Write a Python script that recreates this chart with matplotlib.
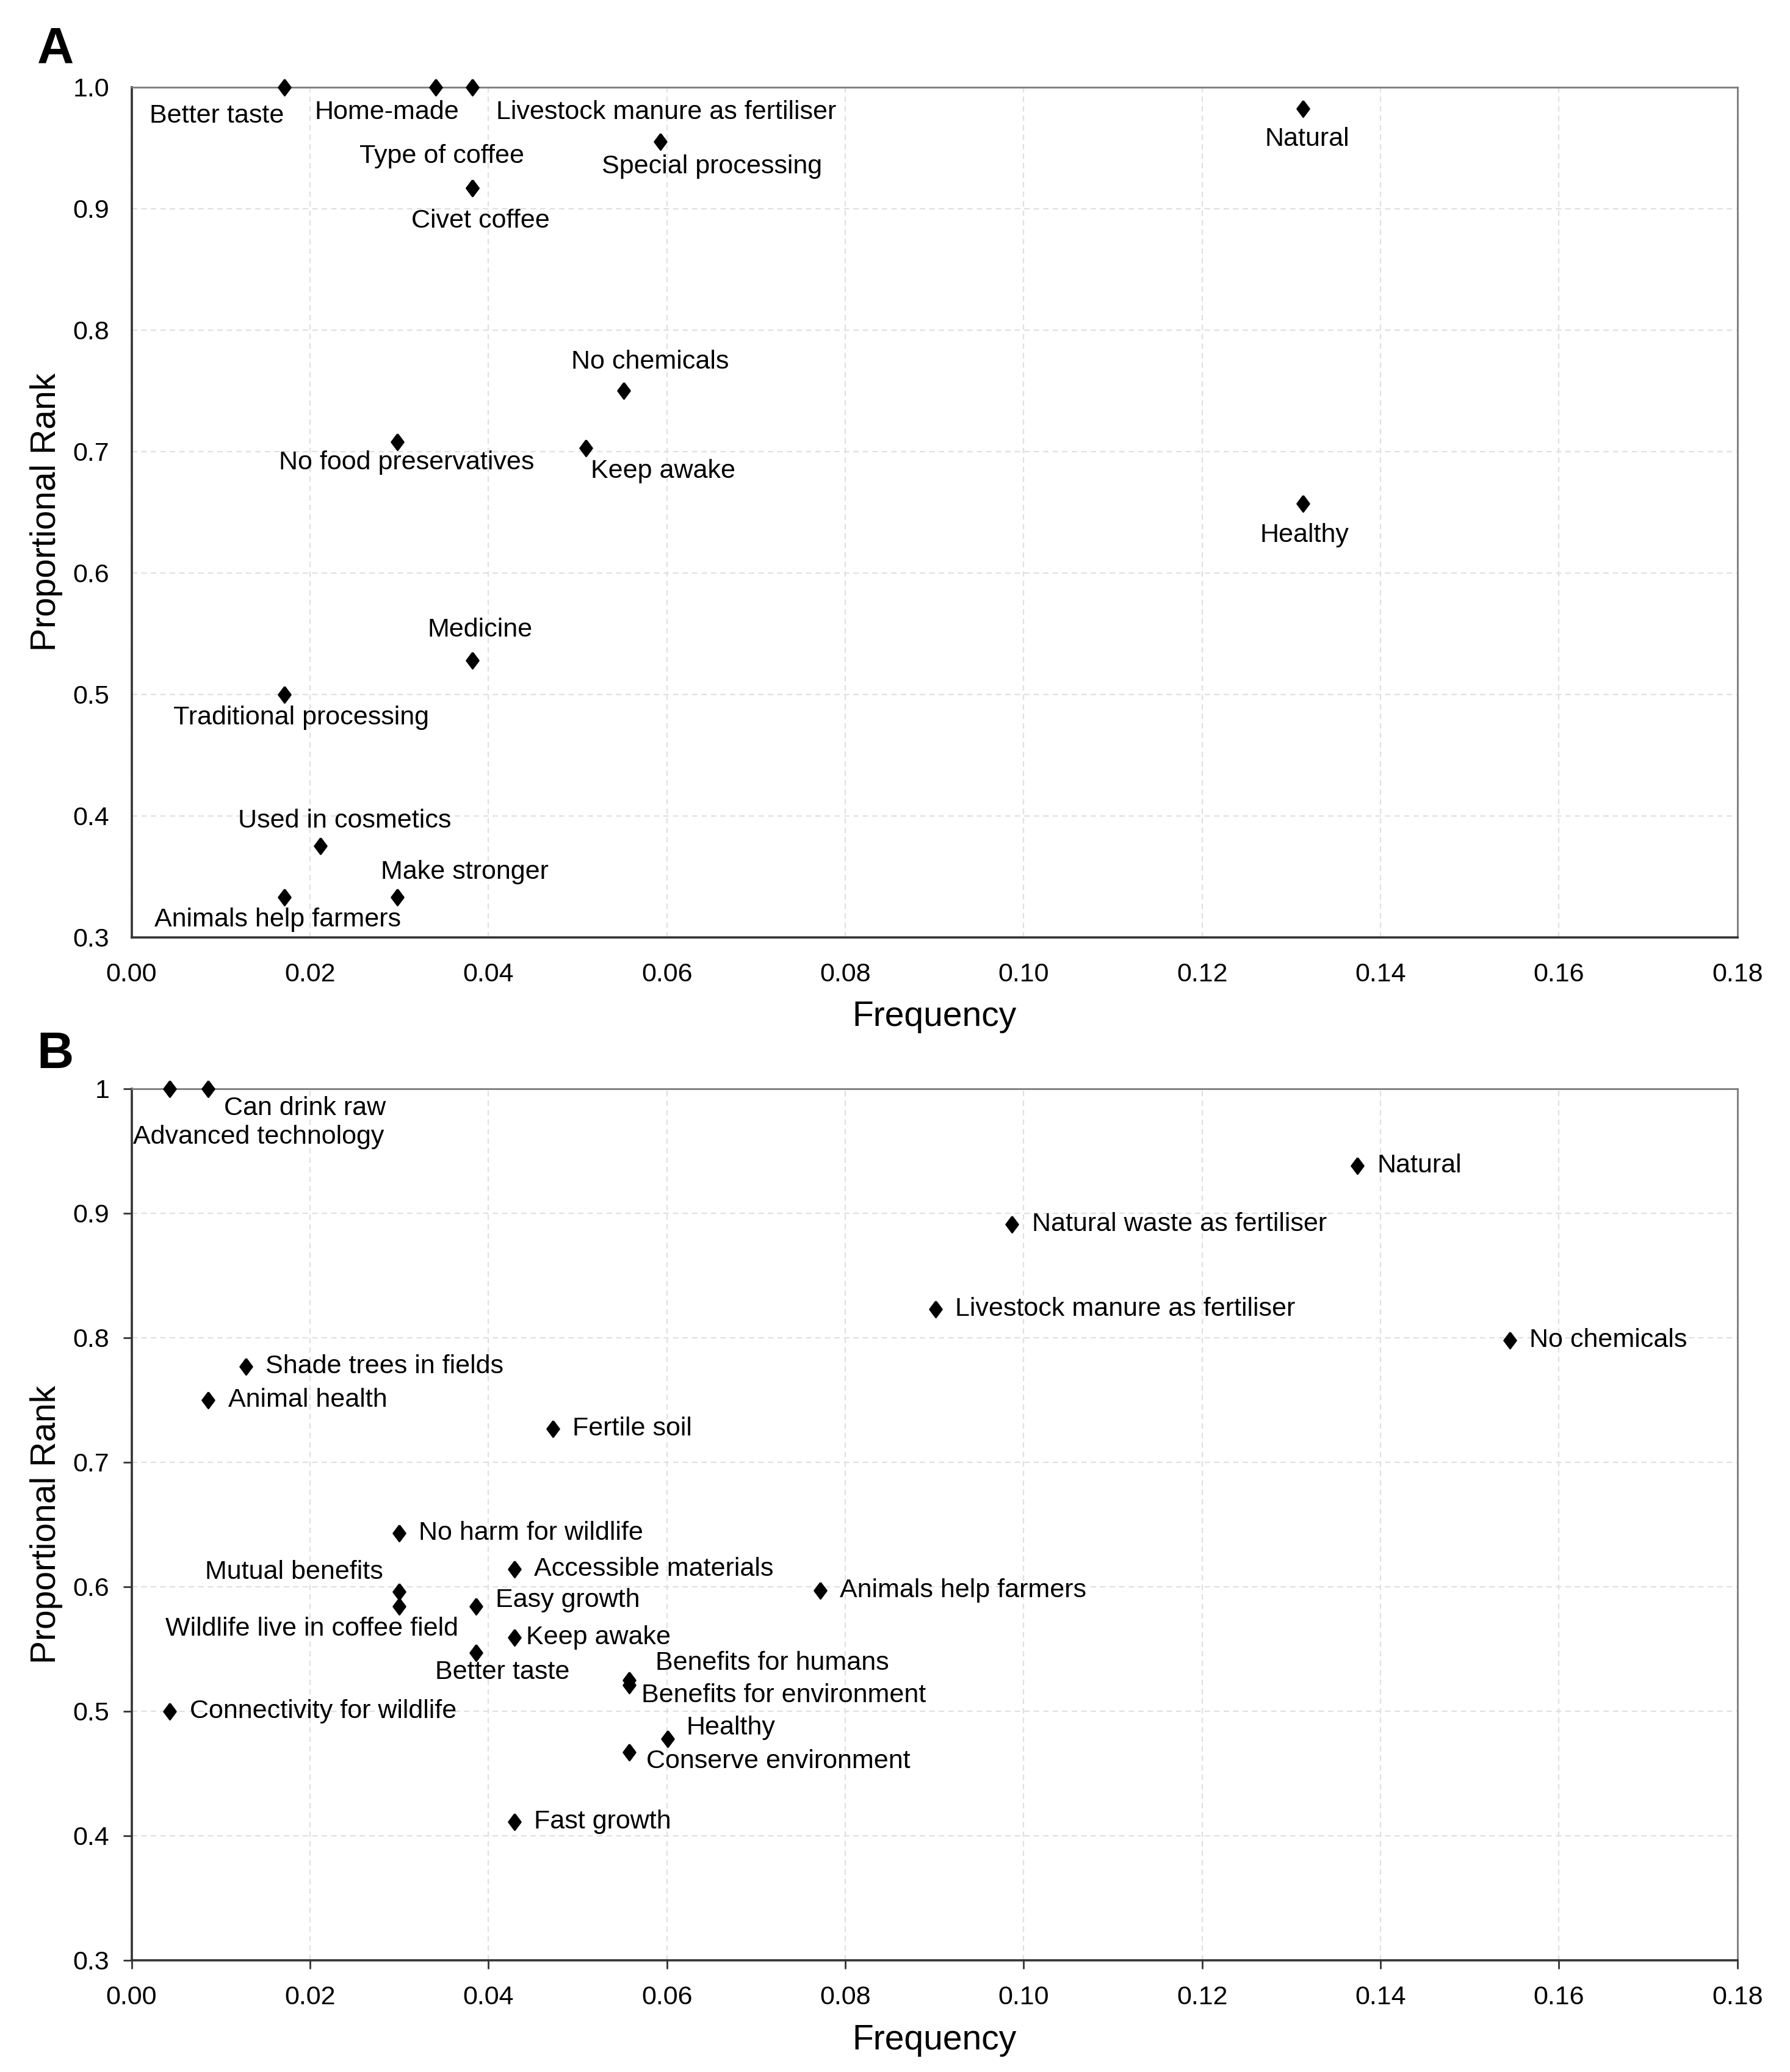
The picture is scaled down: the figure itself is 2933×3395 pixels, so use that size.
import numpy as np
import matplotlib as mpl
import matplotlib.pyplot as plt
from matplotlib.ticker import FixedLocator, FixedFormatter

mpl.rcParams['font.family'] = ['Liberation Sans', 'DejaVu Sans']

# ===== Data: panel A =====
labels_a = ["Better taste", "Home-made", "Livestock manure as fertiliser",
            "Type of coffee", "Special processing", "Civet coffee", "Natural",
            "No chemicals", "No food preservatives", "Keep awake", "Healthy",
            "Medicine", "Traditional processing", "Used in cosmetics",
            "Make stronger", "Animals help farmers"]
freq_a = [0.0171, 0.0341, 0.0382, 0.0382, 0.0593, 0.0382, 0.1313,
          0.0552, 0.0298, 0.0509, 0.1313, 0.0382, 0.0171, 0.0212,
          0.0298, 0.0171]
rank_a = [1.0, 1.0, 1.0, 0.917, 0.955, 0.917, 0.982,
          0.750, 0.708, 0.703, 0.657, 0.528, 0.500, 0.375,
          0.333, 0.333]

# ===== Data: panel B =====
labels_b = ["Advanced technology", "Can drink raw", "Natural",
            "Natural waste as fertiliser", "Livestock manure as fertiliser",
            "No chemicals", "Shade trees in fields", "Animal health",
            "Fertile soil", "No harm for wildlife", "Accessible materials",
            "Mutual benefits", "Wildlife live in coffee field", "Easy growth",
            "Animals help farmers", "Keep awake", "Better taste",
            "Benefits for humans", "Benefits for environment",
            "Connectivity for wildlife", "Healthy", "Conserve environment",
            "Fast growth"]
freq_b = [0.0043, 0.0086, 0.1374, 0.0987, 0.0901, 0.1545, 0.0128, 0.0086,
          0.0472, 0.0300, 0.0429, 0.0300, 0.0300, 0.0386, 0.0772, 0.0429,
          0.0386, 0.0558, 0.0558, 0.0043, 0.0601, 0.0558, 0.0429]
rank_b = [1.0, 1.0, 0.938, 0.891, 0.823, 0.798, 0.777, 0.750,
          0.727, 0.643, 0.614, 0.596, 0.584, 0.584, 0.597, 0.559,
          0.547, 0.525, 0.521, 0.500, 0.478, 0.467, 0.411]

x_ticks = [0.00, 0.02, 0.04, 0.06, 0.08, 0.10, 0.12, 0.14, 0.16, 0.18]
y_ticks = [0.3, 0.4, 0.5, 0.6, 0.7, 0.8, 0.9, 1.0]
y_ticklabels_a = ["0.3", "0.4", "0.5", "0.6", "0.7", "0.8", "0.9", "1.0"]
y_ticklabels_b = ["0.3", "0.4", "0.5", "0.6", "0.7", "0.8", "0.9", "1"]

# ===== Label placement (offsets in reference pixels, ha) =====
PX = 0.776  # reference px -> points
place_a = [(0, -22, 'right'), (-37, -19, 'center'), (18, -19, 'left'),
           (-23, 24, 'center'), (39, -19, 'center'), (6, -25, 'center'),
           (3, -23, 'center'), (20, 22, 'center'), (7, -16, 'center'),
           (4, -18, 'left'), (1, -24, 'center'), (6, 23, 'center'),
           (13, -18, 'center'), (18, 19, 'center'), (51, 19, 'center'),
           (-5, -17, 'center')]
place_b = [(-28, -37, 'left'), (12, -15, 'left'), (15, 0, 'left'),
           (15, 0, 'left'), (15, 0, 'left'), (15, 0, 'left'), (15, 0, 'left'),
           (15, 0, 'left'), (15, 0, 'left'), (15, 0, 'left'), (15, 0, 'left'),
           (-12, 15, 'right'), (45, -17, 'right'), (15, 5, 'left'),
           (15, 0, 'left'), (9, 0, 'left'), (20, -15, 'center'),
           (20, 13, 'left'), (9, -8, 'left'), (15, 0, 'left'),
           (14, 8, 'left'), (13, -7, 'left'), (15, 0, 'left')]

label_size = 15.5
tick_size = 15.5
title_size = 20.5
diamond = [(0, 1), (0.75, 0), (0, -1), (-0.75, 0), (0, 1)]

fig = plt.figure(figsize=(2933 / 200, 3395 / 200), dpi=200)
ax_a = fig.add_axes([0.0735, 0.5477, 0.8971, 0.4103])
ax_b = fig.add_axes([0.0735, 0.0540, 0.8971, 0.4206])


def style_axes(ax, yticklabels, ticks_on):
    ax.set_xlim(0, 0.18)
    ax.set_ylim(0.3, 1.0)
    ax.xaxis.set_major_locator(FixedLocator(x_ticks))
    ax.xaxis.set_major_formatter(FixedFormatter([f"{t:.2f}" for t in x_ticks]))
    ax.yaxis.set_major_locator(FixedLocator(y_ticks))
    ax.yaxis.set_major_formatter(FixedFormatter(yticklabels))
    ax.grid(True, color='#e0e0e0', linestyle=(0, (4, 3)), linewidth=0.8)
    ax.set_axisbelow(True)
    for side in ['left', 'bottom']:
        ax.spines[side].set_color('#333333')
        ax.spines[side].set_linewidth(1.3)
    for side in ['top', 'right']:
        ax.spines[side].set_color('#7a7a7a')
        ax.spines[side].set_linewidth(1.0)
    ax.tick_params(labelsize=tick_size, direction='out',
                   length=5 if ticks_on else 0, width=1.0, color='#333333')
    ax.tick_params(axis='x', pad=15 if not ticks_on else 10)
    ax.tick_params(axis='y', pad=13 if not ticks_on else 8)
    ax.set_xlabel("Frequency", fontsize=title_size, labelpad=8)
    ax.set_ylabel("Proportional Rank", fontsize=title_size, labelpad=6)


def draw(ax, freqs, ranks, labels, place):
    ax.plot(freqs, ranks, linestyle='none', marker=diamond, markersize=9.5,
            color='black', clip_on=False, zorder=3)
    for x, y, lab, (dx, dy, ha) in zip(freqs, ranks, labels, place):
        ax.annotate(lab, (x, y), xytext=(dx * PX, dy * PX),
                    textcoords='offset points', ha=ha, va='center',
                    fontsize=label_size, annotation_clip=False)


style_axes(ax_a, y_ticklabels_a, False)
style_axes(ax_b, y_ticklabels_b, True)
draw(ax_a, freq_a, rank_a, labels_a, place_a)
draw(ax_b, freq_b, rank_b, labels_b, place_b)

fig.text(0.031, 0.976, "A", fontsize=30, fontweight='bold', ha='center', va='center')
fig.text(0.031, 0.491, "B", fontsize=30, fontweight='bold', ha='center', va='center')

fig.savefig("out.png", dpi=200, facecolor='white')
